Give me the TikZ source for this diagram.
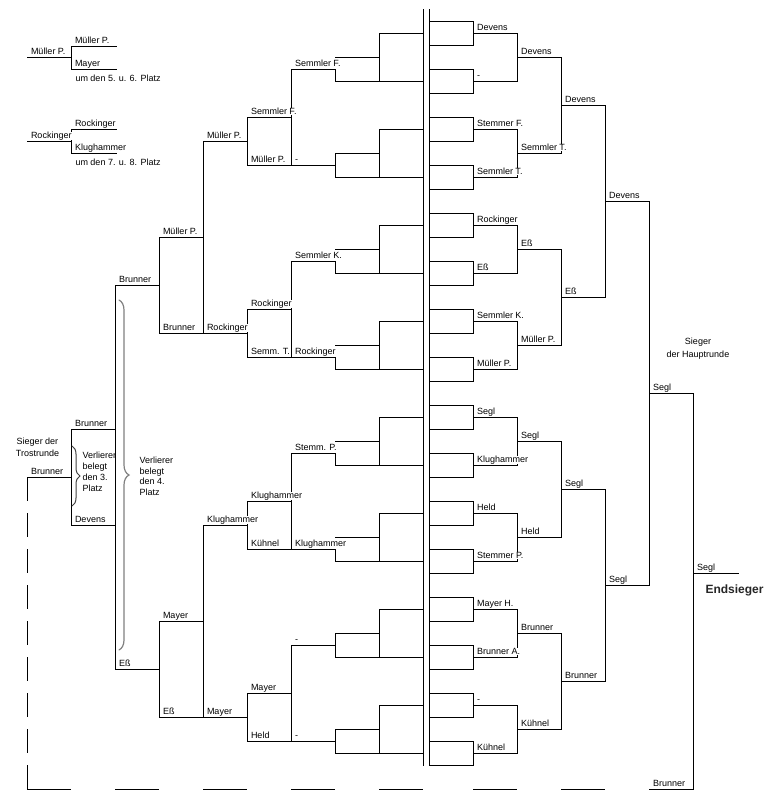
\documentclass[tikz,border=0pt]{standalone}
\usepackage{fontspec}
\setmainfont{Liberation Sans}
\usetikzlibrary{decorations.pathreplacing}
\begin{document}
\begin{tikzpicture}[
			x=1pt, y=-1pt,
			line width=1pt,
			line cap=rect,
			player/.style={anchor=base west, inner sep=0pt, fill=white, font=\fontsize{9}{11}\selectfont},
			note/.style={inner sep=0pt, font=\fontsize{9}{11}\selectfont},
			dashline/.style={dash pattern=on 24pt off 12pt, line cap=butt},
			bracebig/.style={decorate, decoration={brace, amplitude=10pt}, gray, line width=1.2pt, line cap=round}
		]
		\useasboundingbox (0,0) rectangle (770,807);
		\draw (423,9) -- (423,765) (429,9) -- (429,765);
		\foreach \k in {0,...,31}
			\draw (429,{21+24*\k}) -- (473,{21+24*\k});
		\foreach \x/\d/\n in {473/12/15, 517/24/7, 561/48/3, 605/96/1, 649/192/0}
			\foreach \j in {0,...,\n}
				\draw (\x,{9+\d+4*\d*\j}) -- (\x,{9+3*\d+4*\d*\j})
					(\x,{9+2*\d+4*\d*\j}) -- ({\x+44},{9+2*\d+4*\d*\j});
		\draw (649,789) -- (693,789) -- (693,393) (693,573) -- (738,573);
		\foreach \t/\h in {33/36, 129/24, 225/36, 321/36, 417/36, 513/36, 609/24, 705/24}
			\draw (423,\t) -- (379,\t) -- (379,\t+48) (335,\t+24) -- (379,\t+24)
				(423,\t+48) -- (335,\t+48) -- (335,\t+\h);
		\foreach \t in {69, 261, 453, 645}
			\draw (335,\t) -- (291,\t) -- (291,\t+96) (291,\t+48) -- (247,\t+48) -- (247,\t+96) -- (335,\t+96)
				(247,\t+72) -- (203,\t+72);
		\foreach \t in {141, 525}
			\draw (203,\t) -- (203,\t+192) (203,\t+96) -- (159,\t+96) -- (159,\t+192) -- (247,\t+192)
				(159,\t+144) -- (115,\t+144);
		\draw (115,285) -- (115,669) (115,429) -- (71,429) -- (71,525) -- (115,525) (71,477) -- (27,477);
		\draw[dashline] (27,477) -- (27,789);
		\foreach \x in {27, 115, 203, 291, 379, 473, 561}
			\draw[line cap=butt] (\x,789) -- (\x+44,789);
		\draw (27,57) -- (71,57) (116,46) -- (71,46) -- (71,69) -- (116,69);
		\draw (27,141) -- (71,141) (116,129) -- (71,129) -- (71,153) -- (116,153);
		\draw[bracebig] (119,300) -- (119,650);
		\draw[decorate, decoration={brace, amplitude=8pt}, darkgray, line cap=round] (72,446) -- (72,506);
		\foreach \x/\y/\n [count=\i] in {
				473/33/Devens, 473/81/-, 473/129/Stemmer F., 473/177/Semmler T.,
				473/225/Rockinger, 473/273/Eß, 473/321/Semmler K., 473/369/Müller P.,
				473/417/Segl, 473/465/Klughammer, 473/513/Held, 473/561/Stemmer P.,
				473/609/Mayer H., 473/657/Brunner A., 473/705/-, 473/753/Kühnel,
				517/57/Devens, 517/153/Semmler T., 517/249/Eß, 517/345/Müller P.,
				517/441/Segl, 517/537/Held, 517/633/Brunner, 517/729/Kühnel,
				561/105/Devens, 561/297/Eß, 561/489/Segl, 561/681/Brunner,
				605/201/Devens, 605/585/Segl, 649/393/Segl, 693/573/Segl, 649/789/Brunner}
			\node[player] (h\i) at (\x+3.5,\y-2.5) {\n};
		\foreach \x/\y/\n [count=\i] in {
				291/69/Semmler F., 291/165/-, 247/117/Semmler F., 247/165/Müller P., 203/141/Müller P.,
				291/261/Semmler K., 291/357/Rockinger, 247/309/Rockinger, 247/357/Semm. T.,
				203/333/Rockinger, 159/333/Brunner, 159/237/Müller P., 115/285/Brunner,
				291/453/Stemm. P., 291/549/Klughammer, 247/501/Klughammer, 247/549/Kühnel, 203/525/Klughammer,
				291/645/-, 291/741/-, 247/693/Mayer, 247/741/Held, 203/717/Mayer,
				159/717/Eß, 159/621/Mayer, 115/669/Eß,
				71/429/Brunner, 71/525/Devens, 27/477/Brunner,
				27/57/Müller P., 71/46/Müller P., 71/69/Mayer,
				27/141/Rockinger, 71/129/Rockinger, 71/153/Klughammer}
			\node[player] (t\i) at (\x+3.5,\y-2.5) {\n};
		\node[note, anchor=base west] (p56) at (75,81.5) {um den 5. u. 6. Platz};
		\node[note, anchor=base west] (p78) at (75,165.5) {um den 7. u. 8. Platz};
		\node[note, anchor=base, font=\fontsize{9}{12}\selectfont] (trost) at (37.5,444.5)
			{\begin{tabular}[t]{@{}c@{}}Sieger der\\Trostrunde\end{tabular}};
		\node[note, anchor=base west] (third) at (82,458.5)
			{\begin{tabular}[t]{@{}l@{}}Verlierer\\belegt\\den 3.\\Platz\end{tabular}};
		\node[note, anchor=base west, font=\fontsize{9}{10.7}\selectfont] (fourth) at (139,463.5)
			{\begin{tabular}[t]{@{}l@{}}Verlierer\\belegt\\den 4.\\Platz\end{tabular}};
		\node[note, anchor=base, font=\fontsize{9}{13}\selectfont] (haupt) at (698,344)
			{\begin{tabular}[t]{@{}c@{}}Sieger\\der Hauptrunde\end{tabular}};
		\node[anchor=base west, inner sep=0pt, font=\bfseries\fontsize{12}{14}\selectfont, text=black!85] (winner) at (705,593) {Endsieger};
	\end{tikzpicture}
\end{document}
